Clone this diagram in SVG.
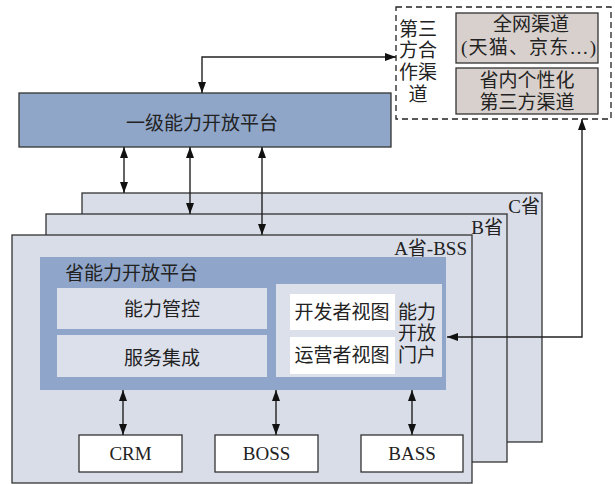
<svg xmlns="http://www.w3.org/2000/svg" width="615" height="484" viewBox="0 0 615 484">
<style>
text{font-family:"Liberation Serif","Noto Sans CJK SC",serif;font-size:19px;fill:#222}
.c{text-anchor:middle}
.e{text-anchor:end}
.stack{fill:#d9dde8;stroke:#333;stroke-width:1.3}
.blue{fill:#8fa5c9}
.lite{fill:#dce0eb}
.wbox{fill:#fff}
.box{fill:#fff;stroke:#333;stroke-width:1.3}
.ch{fill:#d8d0cc;stroke:#333;stroke-width:1.3}
.con{fill:none;stroke:#222;stroke-width:1.4;marker-start:url(#ah);marker-end:url(#ah)}
</style>
<defs>
<marker id="ah" viewBox="0 0 11 8" refX="11" refY="4" markerWidth="11" markerHeight="8" markerUnits="userSpaceOnUse" orient="auto-start-reverse">
<path d="M0,0 L11,4 L0,8 Z" fill="#111"/>
</marker>
</defs>

<g id="partner">
<rect x="396" y="7" width="215" height="112" fill="#fff" stroke="#222" stroke-width="1.3" stroke-dasharray="6,4"/>
<text class="c" x="418" y="36">第三</text>
<text class="c" x="418" y="57">方合</text>
<text class="c" x="418" y="79">作渠</text>
<text class="c" x="418" y="101">道</text>
</g>
<g id="allnet">
<rect class="ch" x="456" y="13" width="142" height="50"/>
<text class="c" x="531" y="31">全网渠道</text>
<text x="461" y="54" textLength="135" lengthAdjust="spacing">(天猫、京东…)</text>
</g>
<g id="prov-third">
<rect class="ch" x="456" y="68" width="142" height="46"/>
<text class="c" x="527" y="87">省内个性化</text>
<text class="c" x="527" y="109">第三方渠道</text>
</g>

<g id="level1">
<rect x="19" y="93" width="372" height="54" fill="#8fa6c9" stroke="#333" stroke-width="1.3"/>
<text class="c" x="202" y="130">一级能力开放平台</text>
</g>

<g id="provC">
<rect class="stack" x="82" y="193" width="460" height="249"/>
<text class="e" x="540" y="213">C省</text>
</g>
<g id="provB">
<rect class="stack" x="46" y="214" width="461" height="248"/>
<text class="e" x="503" y="234">B省</text>
</g>
<g id="provA">
<rect class="stack" x="12" y="235" width="460" height="248"/>
<text class="e" x="467" y="255">A省-BSS</text>
</g>

<g id="prov-platform">
<rect class="blue" x="40" y="257" width="406" height="133"/>
<text x="65" y="280">省能力开放平台</text>
</g>
<g id="ctrl">
<rect class="lite" x="57" y="288" width="210" height="41"/>
<text class="c" x="162" y="316">能力管控</text>
</g>
<g id="svc">
<rect class="lite" x="57" y="335" width="210" height="42"/>
<text class="c" x="162" y="365">服务集成</text>
</g>
<g id="portal">
<rect class="lite" x="276" y="284" width="166" height="93"/>
<text class="c" x="417" y="319">能力</text>
<text class="c" x="417" y="340">开放</text>
<text class="c" x="417" y="362">门户</text>
</g>
<g id="devview">
<rect class="wbox" x="290" y="294" width="105" height="36"/>
<text class="c" x="342" y="319">开发者视图</text>
</g>
<g id="opview">
<rect class="wbox" x="290" y="337" width="105" height="37"/>
<text class="c" x="342" y="362">运营者视图</text>
</g>

<g id="crm">
<rect class="box" x="79" y="435" width="103" height="37"/>
<text class="c" x="130.5" y="460">CRM</text>
</g>
<g id="boss">
<rect class="box" x="215" y="435" width="103" height="37"/>
<text class="c" x="266.5" y="460">BOSS</text>
</g>
<g id="bass">
<rect class="box" x="361" y="435" width="102" height="37"/>
<text class="c" x="412" y="460">BASS</text>
</g>

<g id="connectors">
<path class="con" d="M202,93 V57 H396"/>
<path class="con" d="M124,147 V193"/>
<path class="con" d="M190,147 V214"/>
<path class="con" d="M262,147 V235"/>
<path class="con" d="M582,119 V337 H447"/>
<path class="con" d="M123,390 V435"/>
<path class="con" d="M276,390 V435"/>
<path class="con" d="M412,390 V435"/>
</g>
</svg>
